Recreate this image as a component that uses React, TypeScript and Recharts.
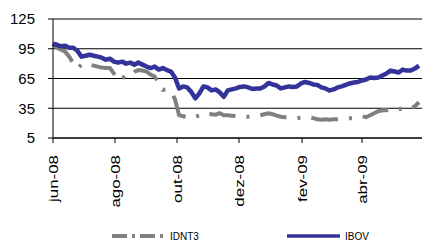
import React from "react";
import { CartesianGrid, Line, LineChart, XAxis, YAxis } from "recharts";

// índices normalizados (base 100 em jun-08), amostra a cada 4 dias corridos
const STEP_DAYS = 4;

const IDNT3 = [
  100, 96, 94, 92, 87, 80, 75, 79, 80.5, 79, 78, 77, 76, 75.5, 75.5, 70, 63.5, 65, 68.5, 68,
  71.6, 73.6, 73, 72, 69, 67, 60.5, 53.5, 54, 52, 44, 28, 27, 26, 27, 26, 28, 30, 30, 29,
  28.5, 30, 28, 28, 27.5, 27, 26.5, 26, 26.5, 27, 27, 28, 29, 30, 29, 27.5, 26.5, 26, 25.5, 25,
  25, 25.5, 25.5, 26, 25, 24, 23.5, 24, 23.5, 24, 24, 24.5, 24.5, 25, 25, 26, 27, 26, 28, 30,
  32, 33, 33, 34, 33, 34, 35, 34, 35, 37, 41,
];

const IBOV = [
  100, 99, 97.5, 98, 96, 96, 93, 87, 88, 89, 88, 87, 86, 84, 85, 82, 81, 82, 80, 81,
  79, 81, 79, 77, 75.5, 77, 74, 75.5, 73.5, 72, 66, 55, 57, 56, 51.5, 45, 50, 57, 56, 53,
  54, 51, 46.5, 53, 54, 55, 56.5, 57, 56, 54.5, 55, 55, 57, 60.5, 59, 58, 55, 56, 57, 56.5,
  57, 60, 61.5, 60.5, 59, 58.5, 56, 55, 53, 54, 56, 57, 58.5, 60, 61, 61.5, 63, 64, 66, 65.5,
  66, 68, 70, 73, 72, 71, 74, 73, 73, 75, 78,
];

// dias desde 1/jun/2008
const TICK_DAYS = [0, 61, 122, 183, 245, 304];
const TICK_LABELS = ["jun-08", "ago-08", "out-08", "dez-08", "fev-09", "abr-09"];
const Y_TICKS = [5, 35, 65, 95, 125];

const data = IBOV.map((v, i) => ({ day: i * STEP_DAYS, IDNT3: IDNT3[i], IBOV: v }));

const XTick = ({ x, y, payload }: any) => {
  const idx = TICK_DAYS.indexOf(payload.value);
  return (
    <g transform={`translate(${x},${y})`}>
      <text
        transform="rotate(-90) scale(1.3,1)"
        textAnchor="end"
        dy="0.35em"
        fontSize={13}
        fill="#000"
      >
        {TICK_LABELS[idx]}
      </text>
    </g>
  );
};

export default function App() {
  return (
    <div
      style={{
        position: "absolute",
        left: 0,
        top: 0,
        width: 422,
        height: 241,
        fontFamily: "'Liberation Sans', Arial, sans-serif",
        background: "#fff",
        overflow: "hidden",
      }}
    >
      <LineChart width={422} height={241} data={data} margin={{ top: 19, right: 0, left: 0, bottom: 0 }}>
        <CartesianGrid vertical={false} stroke="#000" />
        <XAxis
          dataKey="day"
          type="number"
          domain={[0, 363]}
          ticks={TICK_DAYS}
          interval={0}
          height={103}
          tickSize={5}
          tickMargin={12}
          tick={<XTick />}
          axisLine={{ stroke: "#000" }}
          tickLine={{ stroke: "#000" }}
        />
        <YAxis
          domain={[5, 125]}
          ticks={Y_TICKS}
          width={53}
          tickSize={5}
          tickMargin={13}
          tick={{ fontSize: 15, fill: "#000" }}
          axisLine={{ stroke: "#000" }}
          tickLine={{ stroke: "#000" }}
        />
        <Line
          dataKey="IDNT3"
          type="linear"
          stroke="#808080"
          strokeWidth={4}
          strokeDasharray="27 11 3 11"
          dot={false}
          isAnimationActive={false}
        />
        <Line
          dataKey="IBOV"
          type="linear"
          stroke="#333399"
          strokeWidth={4.5}
          strokeLinejoin="round"
          dot={false}
          isAnimationActive={false}
        />
      </LineChart>
      <svg width={422} height={241} style={{ position: "absolute", left: 0, top: 0, pointerEvents: "none" }}>
        <line x1={112} x2={165} y1={236} y2={236} stroke="#808080" strokeWidth={4} strokeDasharray="15 5 3 5" />
        <text x={170} y={239.5} fontSize={10} fill="#000">IDNT3</text>
        <line x1={287} x2={340} y1={236} y2={236} stroke="#333399" strokeWidth={3.5} />
        <text x={345} y={239.5} fontSize={10} fill="#000">IBOV</text>
      </svg>
    </div>
  );
}
